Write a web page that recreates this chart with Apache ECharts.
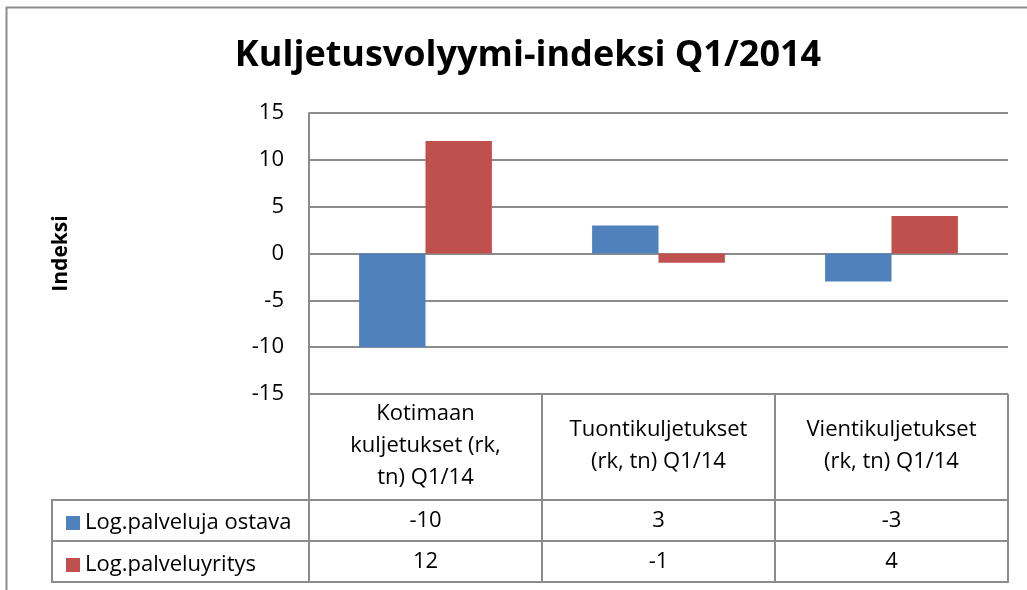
<!DOCTYPE html>
<html>
<head>
<meta charset="utf-8">
<script src="https://cdn.jsdelivr.net/npm/echarts@6/dist/echarts.min.js"></script>
<style>html,body{margin:0;padding:0;background:#fff;}#c{width:1027px;height:590px;}</style>
</head>
<body>
<div id="c"></div>
<script>
var titleText = 'Kuljetusvolyymi-indeksi Q1/2014';
var yName = 'Indeksi';
var categories = ['Kotimaan\nkuljetukset (rk,\ntn) Q1/14', 'Tuontikuljetukset\n(rk, tn) Q1/14', 'Vientikuljetukset\n(rk, tn) Q1/14'];
var seriesNames = ['Log.palveluja ostava', 'Log.palveluyritys'];
var ostava = [-10, 3, -3];
var palveluyritys = [12, -1, 4];
var yTicks = {min: -15, max: 15, interval: 5};

var FONT = 'Open Sans';
var FS = 22;
var GRAY = '#8c8c8c';
var chart = echarts.init(document.getElementById('c'));

function vline(x, y1, y2) { return {type: 'line', shape: {x1: x, y1: y1, x2: x, y2: y2}, style: {stroke: GRAY, lineWidth: 2}}; }
function hline(y, x1, x2) { return {type: 'line', shape: {x1: x1, y1: y, x2: x2, y2: y}, style: {stroke: GRAY, lineWidth: 2}}; }

var labelAxis = function (data, offset) {
  return {
    type: 'category', gridIndex: 0, position: 'bottom', offset: offset, data: data,
    axisLine: {show: false}, axisTick: {show: false}, splitLine: {show: false},
    axisLabel: {margin: 0, verticalAlign: 'middle', fontFamily: FONT, fontSize: FS, color: '#000', interval: 0}
  };
};

chart.setOption({
  animation: false,
  backgroundColor: '#fff',
  title: {
    text: titleText, left: 523, top: 33, textAlign: 'center',
    textStyle: {fontFamily: FONT, fontWeight: 'bold', fontSize: 36, color: '#000'}
  },
  legend: {
    orient: 'vertical', left: 61, top: 507, itemGap: 20, itemWidth: 14, itemHeight: 14,
    icon: 'rect', selectedMode: false, data: seriesNames,
    textStyle: {fontFamily: FONT, fontSize: FS, color: '#000', lineHeight: 22, padding: [0, 0, 0, 0]}
  },
  grid: {left: 309, right: 19, top: 113, bottom: 196, containLabel: false},
  xAxis: [
    {
      type: 'category', data: categories,
      axisLine: {show: false}, axisTick: {show: false}, splitLine: {show: false},
      axisLabel: {margin: 52, verticalAlign: 'middle', lineHeight: 32, fontFamily: FONT, fontSize: FS, color: '#000', interval: 0, align: 'center'}
    },
    labelAxis(ostava.map(String), 127),
    labelAxis(palveluyritys.map(String), 168)
  ],
  yAxis: {
    type: 'value', min: yTicks.min, max: yTicks.max, interval: yTicks.interval,
    name: yName, nameLocation: 'middle', nameGap: 237, nameRotate: 90,
    nameTextStyle: {fontFamily: FONT, fontWeight: 'bold', fontSize: 21, color: '#000'},
    axisLine: {show: true, lineStyle: {color: GRAY, width: 2}},
    axisTick: {show: false},
    axisLabel: {margin: 25, fontFamily: FONT, fontSize: FS, color: '#000'},
    splitLine: {show: true, lineStyle: {color: GRAY, width: 2}}
  },
  series: [
    {name: seriesNames[0], type: 'bar', data: ostava, xAxisIndex: 0, barGap: '0%', barCategoryGap: '43%', itemStyle: {color: '#4F81BD'}},
    {name: seriesNames[1], type: 'bar', data: palveluyritys, xAxisIndex: 0, barGap: '0%', barCategoryGap: '43%', itemStyle: {color: '#C0504D'}}
  ],
  graphic: [
    vline(6.5, 7, 590), hline(7.5, 6, 1027),
    vline(309, 394, 583), vline(542, 394, 583), vline(775, 394, 583), vline(1008, 394, 583),
    vline(52, 500, 583),
    hline(500, 51, 1009), hline(541, 51, 1009), hline(582, 51, 1009)
  ]
});
</script>
</body>
</html>
